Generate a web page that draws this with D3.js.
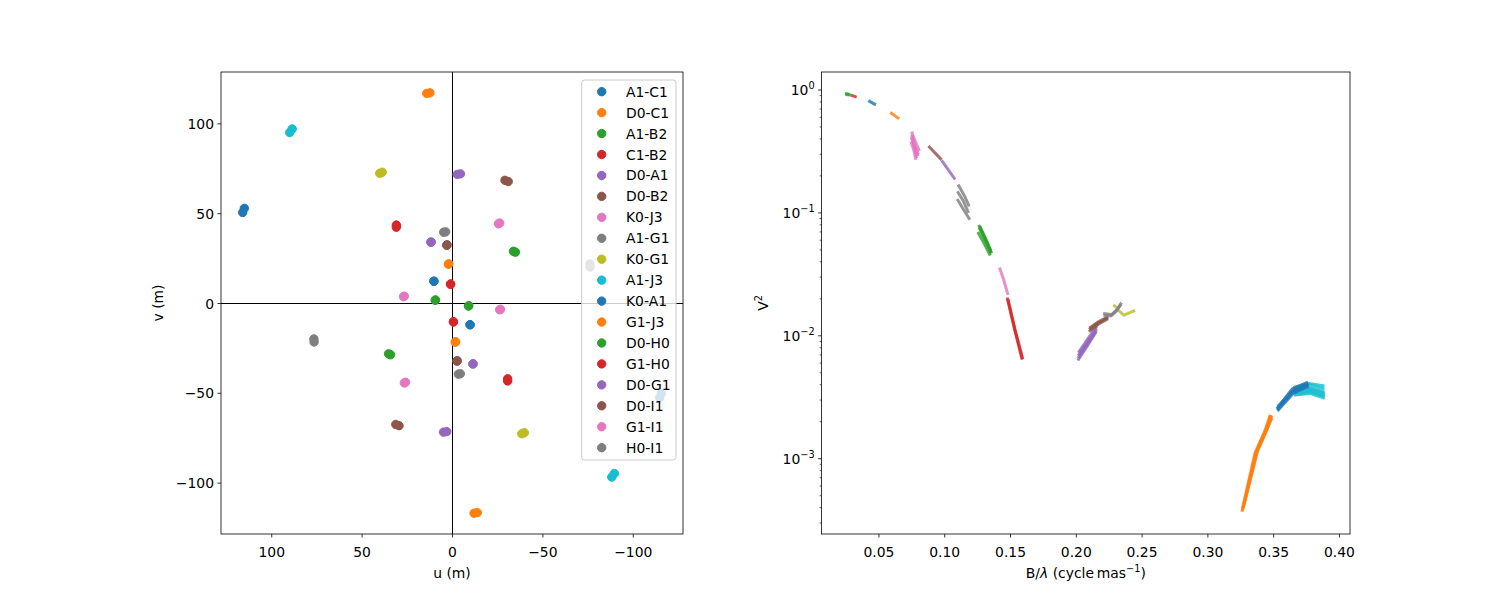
<!DOCTYPE html>
<html>
<head>
<meta charset="utf-8">
<script src="https://cdn.jsdelivr.net/npm/d3@7"></script>
<style>
  body { margin: 0; background: #fff; }
  svg { display: block; }
  text { font-family: "DejaVu Sans", sans-serif; fill: #000; }
</style>
</head>
<body>
<svg id="chart" width="1500" height="600"></svg>
<script>
// ---------------- DATA ----------------
const baselines = ["A1-C1","D0-C1","A1-B2","C1-B2","D0-A1","D0-B2","K0-J3","A1-G1","K0-G1",
                   "A1-J3","K0-A1","G1-J3","D0-H0","G1-H0","D0-G1","D0-I1","G1-I1","H0-I1"];

// uv samples (m) per baseline: the mirrored point (-u,-v) is also plotted
const uvSamples = [
  [[10.0,12.1],[10.0,12.1]],
  [[2.0,21.6],[1.8,21.8]],
  [[9.3,1.5],[9.1,1.7]],
  [[0.8,10.4],[0.8,10.6]],
  [[11.7,33.8],[11.5,34.0]],
  [[2.9,32.1],[2.7,32.4]],
  [[26.8,3.5],[26.4,3.8]],
  [[4.6,39.4],[3.5,39.6]],
  [[40.0,72.2],[38.6,72.8]],
  [[89.8,94.9],[88.4,96.9]],
  [[115.8,50.4],[114.9,52.7]],
  [[14.0,116.7],[12.2,117.0]],
  [[-34.0,28.8],[-35.1,28.3]],
  [[30.8,42.2],[30.8,43.4]],
  [[-2.9,71.6],[-4.7,71.9]],
  [[-29.3,68.3],[-31.1,67.6]],
  [[-25.7,44.1],[-26.4,44.5]],
  [[76.4,-20.0],[76.3,-21.7]]
];

// V^2 traces per baseline: list of polylines of [B/lambda (cycle/mas), V^2]
const vis2Traces = [
  [[[0.0423,0.820],[0.0481,0.757]]],
  [[[0.0590,0.655],[0.0658,0.582]]],
  [[[0.0245,0.935],[0.0280,0.925]],[[0.0250,0.920],[0.0290,0.910]]],
  [[[0.0290,0.908],[0.0335,0.875]]],
  [[[0.0980,0.268],[0.1083,0.187]]],
  [[[0.0880,0.350],[0.0980,0.270]]],
  [[[0.0755,0.46],[0.0765,0.38],[0.0790,0.28]],
   [[0.0752,0.43],[0.0770,0.36],[0.0795,0.29]],
   [[0.0750,0.41],[0.0775,0.34],[0.0800,0.29]],
   [[0.0760,0.43],[0.0790,0.36],[0.0812,0.32]],
   [[0.0758,0.40],[0.0782,0.34],[0.0805,0.30]],
   [[0.0748,0.38],[0.0770,0.32],[0.0785,0.27]]],
  [[[0.1105,0.170],[0.1150,0.140],[0.1190,0.113]],
   [[0.1100,0.150],[0.1145,0.125],[0.1185,0.100]],
   [[0.1098,0.130],[0.1150,0.105],[0.1195,0.088]]],
  [[[0.2285,0.0178],[0.2310,0.0170]],
   [[0.2323,0.0162],[0.2366,0.0147],[0.2450,0.0161]]],
  [[[0.3653,0.0038],[0.3775,0.0041],[0.3890,0.0039]],
   [[0.3653,0.0037],[0.3775,0.0040],[0.3890,0.0037]],
   [[0.3653,0.0036],[0.3775,0.0038],[0.3890,0.0035]],
   [[0.3656,0.0035],[0.3775,0.0037],[0.3892,0.0034]],
   [[0.3656,0.0034],[0.3775,0.0036],[0.3892,0.0033]],
   [[0.3660,0.0033],[0.3780,0.0035],[0.3892,0.0032]],
   [[0.3660,0.0033],[0.3780,0.0034],[0.3892,0.0031]]],
  [[[0.3528,0.00255],[0.3645,0.0037],[0.3765,0.0042]],
   [[0.3535,0.00265],[0.3650,0.0036],[0.3768,0.0041]],
   [[0.3532,0.00250],[0.3650,0.0035],[0.3768,0.0040]],
   [[0.3532,0.00245],[0.3652,0.0034],[0.3770,0.0039]]],
  [[[0.3262,0.00037],[0.3362,0.00111],[0.3438,0.0017],[0.3478,0.00228]],
   [[0.3266,0.00038],[0.3368,0.00112],[0.3444,0.0017],[0.3484,0.00226]],
   [[0.3270,0.00039],[0.3375,0.00113],[0.3451,0.0017],[0.3489,0.00224]],
   [[0.3275,0.00041],[0.3382,0.00116],[0.3458,0.0018],[0.3492,0.00215]]],
  [[[0.1262,0.080],[0.1310,0.062],[0.1355,0.049]],
   [[0.1255,0.070],[0.1305,0.056],[0.1350,0.045]],
   [[0.1266,0.076],[0.1315,0.059],[0.1358,0.047]],
   [[0.1270,0.078],[0.1320,0.060],[0.1360,0.047]]],
  [[[0.1478,0.0205],[0.1533,0.0115],[0.1592,0.0064]],
   [[0.1484,0.0200],[0.1538,0.0113],[0.1597,0.0065]]],
  [[[0.2015,0.0063],[0.2085,0.0082],[0.2155,0.0108]],
   [[0.2017,0.0066],[0.2087,0.0085],[0.2157,0.0111]],
   [[0.2018,0.0069],[0.2088,0.0089],[0.2158,0.0115]],
   [[0.2020,0.0073],[0.2090,0.0094],[0.2160,0.0120]]],
  [[[0.2100,0.0108],[0.2170,0.0124],[0.2245,0.0138]],
   [[0.2101,0.0112],[0.2171,0.0127],[0.2245,0.0141]],
   [[0.2102,0.0115],[0.2172,0.0130],[0.2245,0.0143]]],
  [[[0.1420,0.036],[0.1450,0.029],[0.1485,0.0215]]],
  [[[0.2208,0.0152],[0.2272,0.0149],[0.2310,0.0162],[0.2348,0.0186]],
   [[0.2210,0.0147],[0.2268,0.0145],[0.2305,0.0158],[0.2343,0.0180]]]
];

const uvTicks = [100, 50, 0, -50, -100];
const blTicks = [0.05, 0.10, 0.15, 0.20, 0.25, 0.30, 0.35, 0.40];
const v2Ticks = [1, 0.1, 0.01, 0.001];
const v2TickExp = ["0", "\u22121", "\u22122", "\u22123"];

const colors = ["#1f77b4","#ff7f0e","#2ca02c","#d62728","#9467bd","#8c564b","#e377c2","#7f7f7f","#bcbd22","#17becf"];

// ---------------- LAYOUT ----------------
const svg = d3.select("#chart");
const FS = 13.9;
const yTop = 72, yBot = 534;
const L = {x0: 221, x1: 683};
const R = {x0: 821.6, x1: 1350};

const fmt = v => (v < 0 ? "\u2212" + Math.abs(v) : String(v));

// ---------------- LEFT: uv plane ----------------
const xU = d3.scaleLinear().domain([127.8, -127.8]).range([L.x0, L.x1]);
const yV = d3.scaleLinear().domain([-128.6, 128.6]).range([yBot, yTop]);

const gl = svg.append("g");
gl.append("line").attr("x1", L.x0).attr("x2", L.x1).attr("y1", yV(0)).attr("y2", yV(0))
  .attr("stroke", "#000").attr("stroke-width", 1).attr("shape-rendering", "crispEdges");
gl.append("line").attr("x1", xU(0)).attr("x2", xU(0)).attr("y1", yTop).attr("y2", yBot)
  .attr("stroke", "#000").attr("stroke-width", 1).attr("shape-rendering", "crispEdges");

baselines.forEach((name, i) => {
  const pts = [];
  uvSamples[i].forEach(([u, v]) => { pts.push([u, v]); pts.push([-u, -v]); });
  gl.append("g").selectAll("circle").data(pts).join("circle")
    .attr("cx", d => xU(d[0])).attr("cy", d => yV(d[1]))
    .attr("r", 4.2)
    .attr("fill", colors[i % 10]).attr("stroke", colors[i % 10]).attr("stroke-width", 1);
});

function styleAxis(g) {
  g.select(".domain").remove();
  g.selectAll(".tick line").attr("stroke", "#000").attr("stroke-width", 0.8);
  g.selectAll(".tick text").attr("font-size", FS).attr("font-family", "DejaVu Sans").attr("fill", "#000");
}
const axL = d3.axisBottom(xU).tickValues(uvTicks).tickFormat(fmt).tickSize(3.5).tickPadding(3.5);
const ayL = d3.axisLeft(yV).tickValues(uvTicks).tickFormat(fmt).tickSize(3.5).tickPadding(3.5);
svg.append("g").attr("transform", `translate(0,${yBot})`).call(axL).call(styleAxis)
  .selectAll(".tick text").attr("dy", null).attr("y", 22.5);
svg.append("g").attr("transform", `translate(${L.x0},0)`).call(ayL).call(styleAxis)
  .selectAll(".tick text").attr("dy", "0.36em");
svg.append("rect").attr("x", L.x0).attr("y", yTop).attr("width", L.x1 - L.x0).attr("height", yBot - yTop)
  .attr("fill", "none").attr("stroke", "#000").attr("stroke-width", 0.8);

svg.append("text").attr("x", (L.x0 + L.x1) / 2).attr("y", 578).attr("text-anchor", "middle")
  .attr("font-size", FS).text("u (m)");
svg.append("text").attr("transform", `translate(163,${(yTop + yBot) / 2}) rotate(-90)`)
  .attr("text-anchor", "middle").attr("font-size", FS).text("v (m)");

// legend
const lg = svg.append("g");
lg.append("rect").attr("x", 581.7).attr("y", 80).attr("width", 94.3).attr("height", 380)
  .attr("rx", 2.8).attr("fill", "#fff").attr("fill-opacity", 0.8)
  .attr("stroke", "#cccccc").attr("stroke-width", 1);
baselines.forEach((name, i) => {
  const y = 91.7 + i * 20.94;
  lg.append("circle").attr("cx", 601.7).attr("cy", y).attr("r", 4.2)
    .attr("fill", colors[i % 10]).attr("stroke", colors[i % 10]).attr("stroke-width", 1);
  lg.append("text").attr("x", 626).attr("y", y).attr("dy", "0.36em")
    .attr("font-size", FS).text(name);
});

// ---------------- RIGHT: V^2 vs B/lambda ----------------
const xB = d3.scaleLinear().domain([0.0068, 0.4084]).range([R.x0, R.x1]);
const yL = d3.scaleLog().domain([2.44e-4, 1.401]).range([yBot, yTop]);

const gr = svg.append("g");
const line = d3.line().x(d => xB(d[0])).y(d => yL(d[1]));
baselines.forEach((name, i) => {
  gr.append("g").selectAll("path").data(vis2Traces[i]).join("path")
    .attr("d", line).attr("fill", "none")
    .attr("stroke", colors[i % 10]).attr("stroke-width", 3)
    .attr("stroke-opacity", 0.82).attr("stroke-linejoin", "round");
});

const axR = d3.axisBottom(xB).tickValues(blTicks).tickFormat(d3.format(".2f")).tickSize(3.5).tickPadding(3.5);
svg.append("g").attr("transform", `translate(0,${yBot})`).call(axR).call(styleAxis)
  .selectAll(".tick text").attr("dy", null).attr("y", 22.5);

const yr = svg.append("g");
const minor = [];
for (let e = -4; e <= 0; e++) for (let m = 2; m <= 9; m++) {
  const v = m * Math.pow(10, e);
  if (v >= 2.44e-4 && v <= 1.401) minor.push(v);
}
yr.selectAll("line.minor").data(minor).join("line").attr("class", "minor")
  .attr("x1", R.x0 - 2).attr("x2", R.x0).attr("y1", d => yL(d)).attr("y2", d => yL(d))
  .attr("stroke", "#000").attr("stroke-width", 0.6);
yr.selectAll("line.major").data(v2Ticks).join("line").attr("class", "major")
  .attr("x1", R.x0 - 3.5).attr("x2", R.x0).attr("y1", d => yL(d)).attr("y2", d => yL(d))
  .attr("stroke", "#000").attr("stroke-width", 0.8);
v2Ticks.forEach((v, i) => {
  const t = yr.append("text").attr("x", R.x0 - 7).attr("y", yL(v) + 5)
    .attr("text-anchor", "end").attr("font-size", FS);
  t.append("tspan").text("10");
  t.append("tspan").attr("dy", -6).attr("font-size", FS * 0.7).text(v2TickExp[i]);
});

svg.append("rect").attr("x", R.x0).attr("y", yTop).attr("width", R.x1 - R.x0).attr("height", yBot - yTop)
  .attr("fill", "none").attr("stroke", "#000").attr("stroke-width", 0.8);

const xl = svg.append("text").attr("x", (R.x0 + R.x1) / 2).attr("y", 578)
  .attr("text-anchor", "middle").attr("font-size", FS);
xl.append("tspan").text("B/");
xl.append("tspan").attr("font-style", "italic").text("\u03bb");
xl.append("tspan").text(" (cycle\u2009mas");
xl.append("tspan").attr("dy", -6).attr("font-size", FS * 0.7).text("\u22121");
xl.append("tspan").attr("dy", 6).text(")");

const yl = svg.append("text").attr("transform", `translate(768,${(yTop + yBot) / 2}) rotate(-90)`)
  .attr("text-anchor", "middle").attr("font-size", FS);
yl.append("tspan").text("V");
yl.append("tspan").attr("dy", -6).attr("font-size", FS * 0.7).text("2");
</script>
</body>
</html>
